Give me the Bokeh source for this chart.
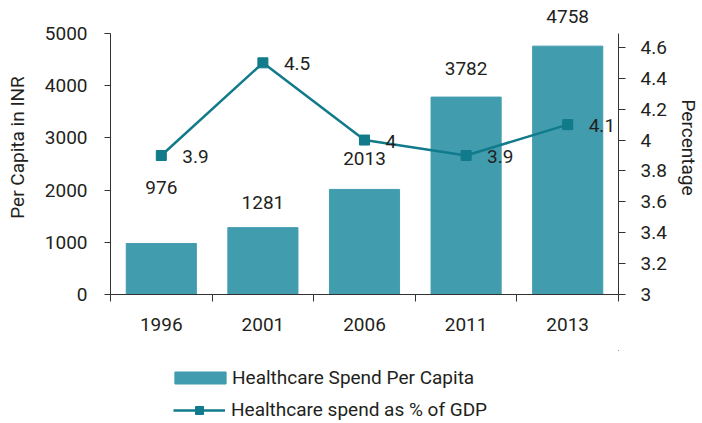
from bokeh.plotting import figure
from bokeh.layouts import column
from bokeh.core.properties import value
from bokeh.models import (Range1d, LinearAxis, FixedTicker,
                          ColumnDataSource, LabelSet, Legend, LegendItem)
from bokeh.embed import file_html
from bokeh.resources import INLINE

# ---- data ----
years = ["1996", "2001", "2006", "2011", "2013"]
per_capita = [976, 1281, 2013, 3782, 4758]
pct_gdp = [3.9, 4.5, 4.0, 3.9, 4.1]
pct_text = ["3.9", "4.5", "4", "3.9", "4.1"]
left_ticks = [0, 1000, 2000, 3000, 4000, 5000]
right_ticks = [3.0, 3.2, 3.4, 3.6, 3.8, 4.0, 4.2, 4.4, 4.6]
right_tick_labels = ["3", "3.2", "3.4", "3.6", "3.8", "4", "4.2", "4.4", "4.6"]
series_names = ["Healthcare Spend Per Capita", "Healthcare spend as % of GDP"]
bar_label_offsets = [56, 25, 31, 29, 30]   # label placement (style)

FONT = "Roboto"
FS = "19px"
TXT = "#231f20"
AX = "#333333"
BAR = "#419cae"
LINE = "#117a8b"

n = len(years)
centers = [i + 0.5 for i in range(n)]      # category slots on the axis
edges = list(range(n + 1))

# ---- layout ----
W = 702
H_MAIN, H_LEG = 350, 73
B_LEFT, B_RIGHT, B_BOTTOM = 110, 79, 56
FRAME_H = H_MAIN - B_BOTTOM         # frame runs from the top of the figure
AXIS_H = 261                        # pixel height of the 0..5000 axis
left_max = 5000
right_min, right_max = 3.0, 4.69
left_top = left_max * FRAME_H / AXIS_H
right_top = right_min + (right_max - right_min) * FRAME_H / AXIS_H

p = figure(width=W, height=H_MAIN, x_range=Range1d(0, n), y_range=Range1d(0, left_top),
           x_axis_location=None, y_axis_location=None, toolbar_location=None,
           output_backend="svg", min_border_left=B_LEFT, min_border_right=B_RIGHT,
           min_border_top=0, min_border_bottom=B_BOTTOM)
p.title = None
p.outline_line_color = None
p.xgrid.visible = False
p.ygrid.visible = False
p.extra_y_ranges = {"pct": Range1d(right_min, right_top)}

yl = LinearAxis(ticker=FixedTicker(ticks=left_ticks), axis_label="Per Capita in INR",
                bounds=(0, left_max))
yr = LinearAxis(y_range_name="pct", ticker=FixedTicker(ticks=right_ticks), axis_label="Percentage",
                bounds=(right_min, right_max),
                major_label_overrides={t: s for t, s in zip(right_ticks, right_tick_labels)})
for ax, so, lso, tout in ((yl, 17, 13, 6), (yr, 15, 7, 7)):
    ax.major_tick_out = tout
    ax.major_tick_in = 0
    ax.minor_tick_out = 0
    ax.minor_tick_in = 0
    ax.major_label_standoff = so
    ax.axis_label_standoff = lso
    ax.axis_line_color = AX
    ax.major_tick_line_color = AX
    ax.major_label_text_font = FONT
    ax.major_label_text_font_size = FS
    ax.major_label_text_color = TXT
    ax.axis_label_text_font = FONT
    ax.axis_label_text_font_size = FS
    ax.axis_label_text_font_style = "normal"
    ax.axis_label_text_color = TXT
p.add_layout(yl, "left")
p.add_layout(yr, "right")

xa = LinearAxis(ticker=FixedTicker(ticks=centers, minor_ticks=edges),
                major_label_overrides={c: y for c, y in zip(centers, years)})
xa.major_tick_out = 0
xa.major_tick_in = 0
xa.major_tick_line_color = None
xa.minor_tick_out = 7
xa.minor_tick_in = 0
xa.minor_tick_line_color = AX
xa.axis_line_color = AX
xa.major_label_standoff = 16
xa.major_label_text_font = FONT
xa.major_label_text_font_size = FS
xa.major_label_text_color = TXT
p.add_layout(xa, "below")

src = ColumnDataSource(dict(x=centers, v=per_capita, vt=[str(v) for v in per_capita],
                            off=bar_label_offsets, pct=pct_gdp, pt=pct_text))

bar_style = dict(fill_color=BAR, line_color=BAR)
line_style = dict(line_color=LINE, line_width=2.5)
mark_style = dict(marker="square", fill_color=LINE, line_color=LINE)

p.vbar(x="x", top="v", width=0.69, source=src, **bar_style)
p.line(x="x", y="pct", source=src, y_range_name="pct", **line_style)
p.scatter(x="x", y="pct", source=src, y_range_name="pct", size=10, **mark_style)

p.add_layout(LabelSet(x="x", y="v", text="vt", y_offset="off", source=src, text_align="center",
                      text_baseline="middle", text_font=value(FONT), text_font_size=FS,
                      text_color=TXT))
p.add_layout(LabelSet(x="x", y="pct", text="pt", x_offset=21, y_offset=-1, y_range_name="pct",
                      source=src, text_align="left", text_baseline="middle",
                      text_font=value(FONT), text_font_size=FS, text_color=TXT))

# ---- legend strip below the chart (its glyphs use the same data, kept far out of view) ----
leg = figure(width=W, height=H_LEG, x_range=Range1d(-10000, -9999), y_range=Range1d(-10000, -9999),
             x_axis_location=None, y_axis_location=None, toolbar_location=None,
             output_backend="svg", min_border=0)
leg.title = None
leg.outline_line_color = None
leg.xgrid.visible = False
leg.ygrid.visible = False
lb = leg.vbar(x="x", top="v", width=0.69, source=src, **bar_style)
ln = leg.line(x="x", y="pct", source=src, **line_style)
lm = leg.scatter(x="x", y="pct", source=src, size=10, **mark_style)

def add_legend(item, loc, gw, gh, standoff):
    leg.add_layout(Legend(items=[item], location=loc, glyph_width=gw, glyph_height=gh,
                          label_standoff=standoff, label_text_font=FONT, label_text_font_size=FS,
                          label_text_color=TXT, border_line_color=None, background_fill_alpha=0,
                          padding=0, margin=0, spacing=0), "center")

add_legend(LegendItem(label=series_names[0], renderers=[lb]), (58, 34), 64, 15, 0)
add_legend(LegendItem(label=series_names[1], renderers=[ln, lm]), (63, 2), 52, 20, 6)

layout = column(p, leg, spacing=0)
open("out.html", "w").write(file_html(layout, INLINE))
